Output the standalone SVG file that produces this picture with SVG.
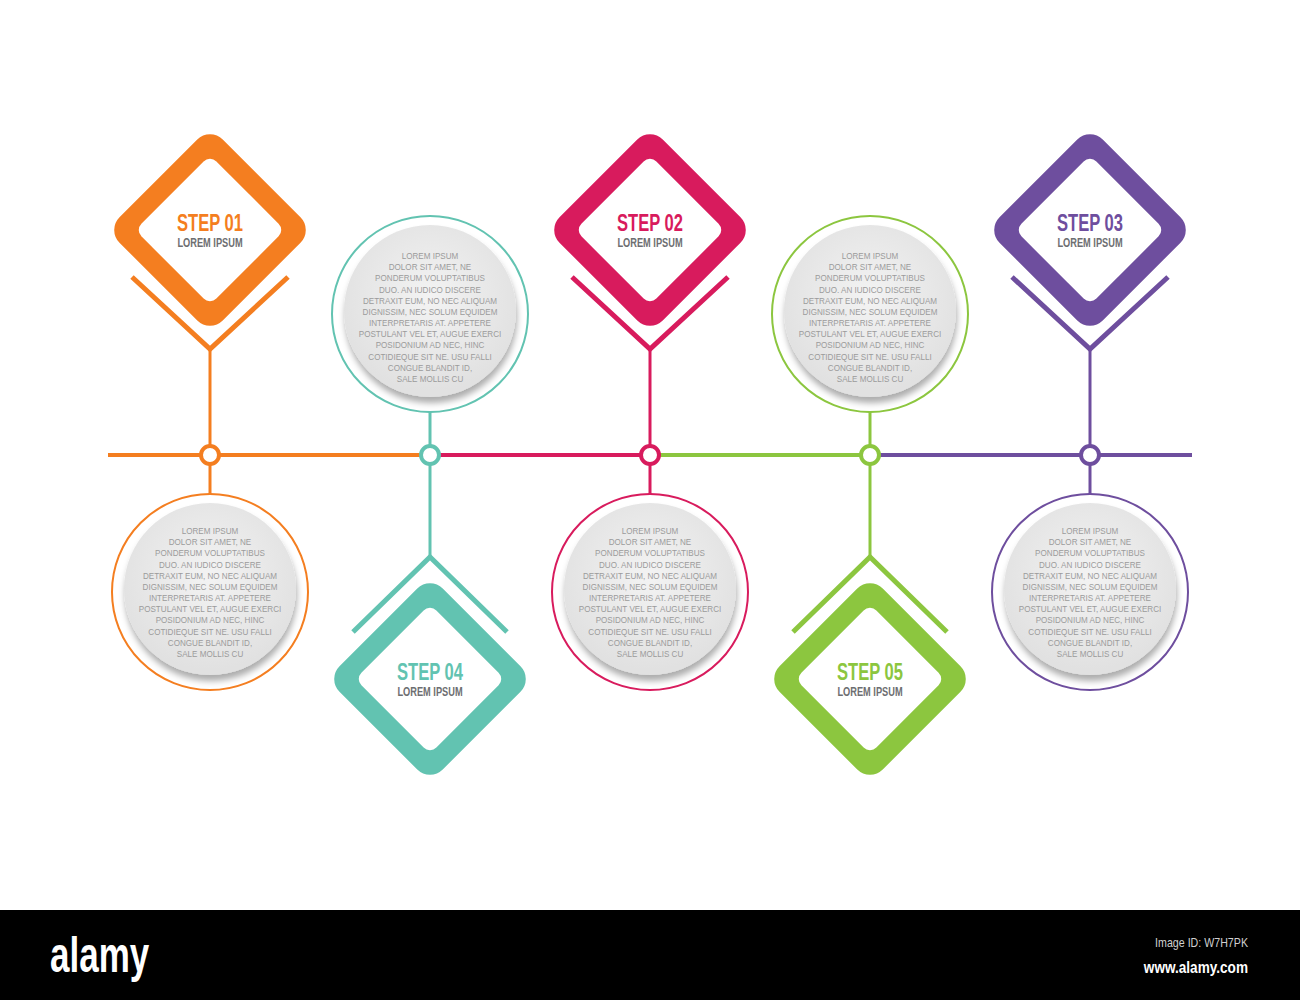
<svg xmlns="http://www.w3.org/2000/svg" width="1300" height="1000" viewBox="0 0 1300 1000">
<style>
.st{font-family:"Liberation Sans",Arial,sans-serif;font-weight:bold;font-size:23px;text-anchor:middle}
.lp{font-family:"Liberation Sans",Arial,sans-serif;font-weight:bold;font-size:12.5px;text-anchor:middle;fill:#6d6e71}
.pt{font-family:"Liberation Sans",Arial,sans-serif;font-size:9px;text-anchor:middle;fill:#9b9b9b}
.ring{fill:none;stroke-width:2}
.disc{fill:url(#dg);filter:url(#sh)}
.stem{stroke-width:3;fill:none}
.tl{stroke-width:4;fill:none}
.node{fill:#fff;stroke-width:4}
.chev{fill:none;stroke-width:5;stroke-linejoin:miter}
</style>
<defs>
<radialGradient id="dg" cx="50%" cy="42%" r="55%">
<stop offset="0" stop-color="#f3f3f3"/>
<stop offset="1" stop-color="#e1e1e1"/>
</radialGradient>
<filter id="sh" x="-20%" y="-20%" width="140%" height="150%">
<feDropShadow dx="1" dy="6" stdDeviation="3" flood-color="#000" flood-opacity="0.32"/>
</filter>
</defs>
<rect width="1300" height="1000" fill="#fff"/>

<g id="connectors">
<line class="tl" x1="108" y1="455" x2="421" y2="455" stroke="#F47E20"/>
<line class="tl" x1="439" y1="455" x2="641" y2="455" stroke="#D81B5D"/>
<line class="tl" x1="659" y1="455" x2="861" y2="455" stroke="#8CC63F"/>
<line class="tl" x1="879" y1="455" x2="1192" y2="455" stroke="#6E4E9E"/>
<line class="stem" x1="210" y1="349" x2="210" y2="494" stroke="#F47E20"/>
<line class="stem" x1="650" y1="349" x2="650" y2="494" stroke="#D81B5D"/>
<line class="stem" x1="1090" y1="349" x2="1090" y2="494" stroke="#6E4E9E"/>
<line class="stem" x1="430" y1="412" x2="430" y2="557" stroke="#62C3B1"/>
<line class="stem" x1="870" y1="412" x2="870" y2="557" stroke="#8CC63F"/>
<circle class="node" cx="210" cy="455" r="9" stroke="#F47E20"/>
<circle class="node" cx="430" cy="455" r="9" stroke="#62C3B1"/>
<circle class="node" cx="650" cy="455" r="9" stroke="#D81B5D"/>
<circle class="node" cx="870" cy="455" r="9" stroke="#8CC63F"/>
<circle class="node" cx="1090" cy="455" r="9" stroke="#6E4E9E"/>
</g>

<g id="step01">
<g transform="translate(210,230) rotate(45)"><rect x="-73" y="-73" width="146" height="146" rx="18" fill="#F47E20"/><rect x="-53" y="-53" width="106" height="106" rx="9" fill="#fff"/></g>
<polyline class="chev" points="132,277 210,349 288,277" stroke="#F47E20"/>
<text class="st" transform="translate(210,231) scale(0.72,1)" fill="#F47E20">STEP 01</text>
<text class="lp" transform="translate(210,247) scale(0.74,1)">LOREM IPSUM</text>
</g>

<g id="step02">
<g transform="translate(650,230) rotate(45)"><rect x="-73" y="-73" width="146" height="146" rx="18" fill="#D81B5D"/><rect x="-53" y="-53" width="106" height="106" rx="9" fill="#fff"/></g>
<polyline class="chev" points="572,277 650,349 728,277" stroke="#D81B5D"/>
<text class="st" transform="translate(650,231) scale(0.72,1)" fill="#D81B5D">STEP 02</text>
<text class="lp" transform="translate(650,247) scale(0.74,1)">LOREM IPSUM</text>
</g>

<g id="step03">
<g transform="translate(1090,230) rotate(45)"><rect x="-73" y="-73" width="146" height="146" rx="18" fill="#6E4E9E"/><rect x="-53" y="-53" width="106" height="106" rx="9" fill="#fff"/></g>
<polyline class="chev" points="1012,277 1090,349 1168,277" stroke="#6E4E9E"/>
<text class="st" transform="translate(1090,231) scale(0.72,1)" fill="#6E4E9E">STEP 03</text>
<text class="lp" transform="translate(1090,247) scale(0.74,1)">LOREM IPSUM</text>
</g>

<g id="step04">
<g transform="translate(430,679) rotate(45)"><rect x="-73" y="-73" width="146" height="146" rx="18" fill="#62C3B1"/><rect x="-53" y="-53" width="106" height="106" rx="9" fill="#fff"/></g>
<polyline class="chev" points="353,632 430,557 507,632" stroke="#62C3B1"/>
<text class="st" transform="translate(430,680) scale(0.72,1)" fill="#62C3B1">STEP 04</text>
<text class="lp" transform="translate(430,696) scale(0.74,1)">LOREM IPSUM</text>
</g>

<g id="step05">
<g transform="translate(870,679) rotate(45)"><rect x="-73" y="-73" width="146" height="146" rx="18" fill="#8CC63F"/><rect x="-53" y="-53" width="106" height="106" rx="9" fill="#fff"/></g>
<polyline class="chev" points="793,632 870,557 947,632" stroke="#8CC63F"/>
<text class="st" transform="translate(870,680) scale(0.72,1)" fill="#8CC63F">STEP 05</text>
<text class="lp" transform="translate(870,696) scale(0.74,1)">LOREM IPSUM</text>
</g>

<g id="note01">
<circle class="ring" cx="210" cy="592" r="98" stroke="#F47E20"/>
<circle class="disc" cx="210" cy="589" r="86"/>
<text class="pt" transform="translate(210,534) scale(0.9,1)"><tspan x="0" dy="0">LOREM IPSUM</tspan><tspan x="0" dy="11.18">DOLOR SIT AMET, NE</tspan><tspan x="0" dy="11.18">PONDERUM VOLUPTATIBUS</tspan><tspan x="0" dy="11.18">DUO. AN IUDICO DISCERE</tspan><tspan x="0" dy="11.18">DETRAXIT EUM, NO NEC ALIQUAM</tspan><tspan x="0" dy="11.18">DIGNISSIM, NEC SOLUM EQUIDEM</tspan><tspan x="0" dy="11.18">INTERPRETARIS AT. APPETERE</tspan><tspan x="0" dy="11.18">POSTULANT VEL ET, AUGUE EXERCI</tspan><tspan x="0" dy="11.18">POSIDONIUM AD NEC, HINC</tspan><tspan x="0" dy="11.18">COTIDIEQUE SIT NE. USU FALLI</tspan><tspan x="0" dy="11.18">CONGUE BLANDIT ID,</tspan><tspan x="0" dy="11.18">SALE MOLLIS CU</tspan></text>
</g>

<g id="note02">
<circle class="ring" cx="650" cy="592" r="98" stroke="#D81B5D"/>
<circle class="disc" cx="650" cy="589" r="86"/>
<text class="pt" transform="translate(650,534) scale(0.9,1)"><tspan x="0" dy="0">LOREM IPSUM</tspan><tspan x="0" dy="11.18">DOLOR SIT AMET, NE</tspan><tspan x="0" dy="11.18">PONDERUM VOLUPTATIBUS</tspan><tspan x="0" dy="11.18">DUO. AN IUDICO DISCERE</tspan><tspan x="0" dy="11.18">DETRAXIT EUM, NO NEC ALIQUAM</tspan><tspan x="0" dy="11.18">DIGNISSIM, NEC SOLUM EQUIDEM</tspan><tspan x="0" dy="11.18">INTERPRETARIS AT. APPETERE</tspan><tspan x="0" dy="11.18">POSTULANT VEL ET, AUGUE EXERCI</tspan><tspan x="0" dy="11.18">POSIDONIUM AD NEC, HINC</tspan><tspan x="0" dy="11.18">COTIDIEQUE SIT NE. USU FALLI</tspan><tspan x="0" dy="11.18">CONGUE BLANDIT ID,</tspan><tspan x="0" dy="11.18">SALE MOLLIS CU</tspan></text>
</g>

<g id="note03">
<circle class="ring" cx="1090" cy="592" r="98" stroke="#6E4E9E"/>
<circle class="disc" cx="1090" cy="589" r="86"/>
<text class="pt" transform="translate(1090,534) scale(0.9,1)"><tspan x="0" dy="0">LOREM IPSUM</tspan><tspan x="0" dy="11.18">DOLOR SIT AMET, NE</tspan><tspan x="0" dy="11.18">PONDERUM VOLUPTATIBUS</tspan><tspan x="0" dy="11.18">DUO. AN IUDICO DISCERE</tspan><tspan x="0" dy="11.18">DETRAXIT EUM, NO NEC ALIQUAM</tspan><tspan x="0" dy="11.18">DIGNISSIM, NEC SOLUM EQUIDEM</tspan><tspan x="0" dy="11.18">INTERPRETARIS AT. APPETERE</tspan><tspan x="0" dy="11.18">POSTULANT VEL ET, AUGUE EXERCI</tspan><tspan x="0" dy="11.18">POSIDONIUM AD NEC, HINC</tspan><tspan x="0" dy="11.18">COTIDIEQUE SIT NE. USU FALLI</tspan><tspan x="0" dy="11.18">CONGUE BLANDIT ID,</tspan><tspan x="0" dy="11.18">SALE MOLLIS CU</tspan></text>
</g>

<g id="note04">
<circle class="ring" cx="430" cy="314" r="98" stroke="#62C3B1"/>
<circle class="disc" cx="430" cy="311" r="86"/>
<text class="pt" transform="translate(430,259) scale(0.9,1)"><tspan x="0" dy="0">LOREM IPSUM</tspan><tspan x="0" dy="11.18">DOLOR SIT AMET, NE</tspan><tspan x="0" dy="11.18">PONDERUM VOLUPTATIBUS</tspan><tspan x="0" dy="11.18">DUO. AN IUDICO DISCERE</tspan><tspan x="0" dy="11.18">DETRAXIT EUM, NO NEC ALIQUAM</tspan><tspan x="0" dy="11.18">DIGNISSIM, NEC SOLUM EQUIDEM</tspan><tspan x="0" dy="11.18">INTERPRETARIS AT. APPETERE</tspan><tspan x="0" dy="11.18">POSTULANT VEL ET, AUGUE EXERCI</tspan><tspan x="0" dy="11.18">POSIDONIUM AD NEC, HINC</tspan><tspan x="0" dy="11.18">COTIDIEQUE SIT NE. USU FALLI</tspan><tspan x="0" dy="11.18">CONGUE BLANDIT ID,</tspan><tspan x="0" dy="11.18">SALE MOLLIS CU</tspan></text>
</g>

<g id="note05">
<circle class="ring" cx="870" cy="314" r="98" stroke="#8CC63F"/>
<circle class="disc" cx="870" cy="311" r="86"/>
<text class="pt" transform="translate(870,259) scale(0.9,1)"><tspan x="0" dy="0">LOREM IPSUM</tspan><tspan x="0" dy="11.18">DOLOR SIT AMET, NE</tspan><tspan x="0" dy="11.18">PONDERUM VOLUPTATIBUS</tspan><tspan x="0" dy="11.18">DUO. AN IUDICO DISCERE</tspan><tspan x="0" dy="11.18">DETRAXIT EUM, NO NEC ALIQUAM</tspan><tspan x="0" dy="11.18">DIGNISSIM, NEC SOLUM EQUIDEM</tspan><tspan x="0" dy="11.18">INTERPRETARIS AT. APPETERE</tspan><tspan x="0" dy="11.18">POSTULANT VEL ET, AUGUE EXERCI</tspan><tspan x="0" dy="11.18">POSIDONIUM AD NEC, HINC</tspan><tspan x="0" dy="11.18">COTIDIEQUE SIT NE. USU FALLI</tspan><tspan x="0" dy="11.18">CONGUE BLANDIT ID,</tspan><tspan x="0" dy="11.18">SALE MOLLIS CU</tspan></text>
</g>

<g id="footer">
<rect x="0" y="910" width="1300" height="90" fill="#000"/>
<text transform="translate(50,972) scale(0.7,1)" font-family="Liberation Sans, Arial, sans-serif" font-weight="bold" font-size="50" fill="#fff">alamy</text>
<text transform="translate(1248,947) scale(0.82,1)" text-anchor="end" font-family="Liberation Sans, Arial, sans-serif" font-size="13" fill="#d0d0d0">Image ID: W7H7PK</text>
<text transform="translate(1248,973) scale(0.8,1)" text-anchor="end" font-family="Liberation Sans, Arial, sans-serif" font-weight="bold" font-size="17" fill="#fff">www.alamy.com</text>
</g>
</svg>
